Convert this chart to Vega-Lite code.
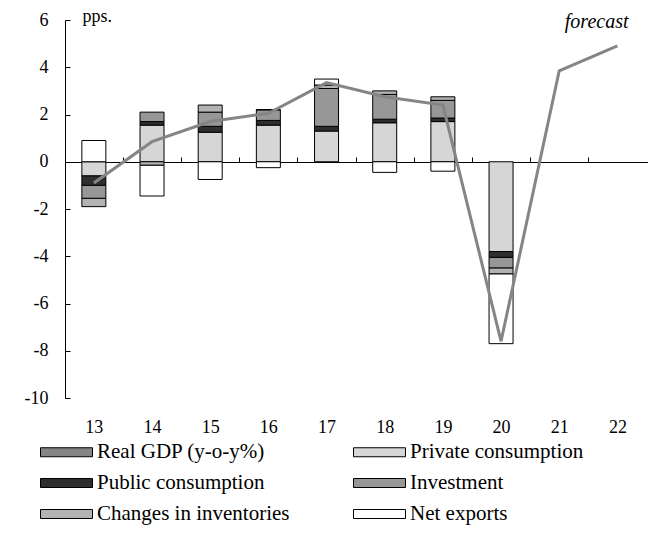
{
  "$schema": "https://vega.github.io/schema/vega-lite/v6.json",
  "width": 583,
  "height": 378,
  "autosize": {"type": "none"},
  "padding": {"left": 65, "top": 20, "right": 0, "bottom": 135},
  "background": "white",
  "config": {
    "view": {"stroke": null},
    "font": "Liberation Serif",
    "axis": {"labelFont": "Liberation Serif", "labelFontSize": 18, "labelColor": "black", "grid": false, "domainColor": "black", "tickColor": "black", "titleFont": "Liberation Serif", "titleFontWeight": "normal", "titleColor": "black"},
    "legend": {"labelFont": "Liberation Serif", "labelFontSize": 21, "labelColor": "black"}
  },
  "datasets": {
    "comps": [
      {"year": 13, "component": "Private consumption", "ord": 1, "value": -0.6},
      {"year": 13, "component": "Public consumption", "ord": 2, "value": -0.4},
      {"year": 13, "component": "Investment", "ord": 3, "value": -0.55},
      {"year": 13, "component": "Changes in inventories", "ord": 4, "value": -0.35},
      {"year": 13, "component": "Net exports", "ord": 5, "value": 0.9},
      {"year": 14, "component": "Private consumption", "ord": 1, "value": 1.55},
      {"year": 14, "component": "Public consumption", "ord": 2, "value": 0.15},
      {"year": 14, "component": "Investment", "ord": 3, "value": 0.4},
      {"year": 14, "component": "Changes in inventories", "ord": 4, "value": -0.15},
      {"year": 14, "component": "Net exports", "ord": 5, "value": -1.3},
      {"year": 15, "component": "Private consumption", "ord": 1, "value": 1.25},
      {"year": 15, "component": "Public consumption", "ord": 2, "value": 0.25},
      {"year": 15, "component": "Investment", "ord": 3, "value": 0.6},
      {"year": 15, "component": "Changes in inventories", "ord": 4, "value": 0.3},
      {"year": 15, "component": "Net exports", "ord": 5, "value": -0.75},
      {"year": 16, "component": "Private consumption", "ord": 1, "value": 1.55},
      {"year": 16, "component": "Public consumption", "ord": 2, "value": 0.2},
      {"year": 16, "component": "Investment", "ord": 3, "value": 0.45},
      {"year": 16, "component": "Changes in inventories", "ord": 4, "value": 0.0},
      {"year": 16, "component": "Net exports", "ord": 5, "value": -0.25},
      {"year": 17, "component": "Private consumption", "ord": 1, "value": 1.3},
      {"year": 17, "component": "Public consumption", "ord": 2, "value": 0.2},
      {"year": 17, "component": "Investment", "ord": 3, "value": 1.6},
      {"year": 17, "component": "Changes in inventories", "ord": 4, "value": 0.15},
      {"year": 17, "component": "Net exports", "ord": 5, "value": 0.25},
      {"year": 18, "component": "Private consumption", "ord": 1, "value": 1.65},
      {"year": 18, "component": "Public consumption", "ord": 2, "value": 0.15},
      {"year": 18, "component": "Investment", "ord": 3, "value": 1.05},
      {"year": 18, "component": "Changes in inventories", "ord": 4, "value": 0.15},
      {"year": 18, "component": "Net exports", "ord": 5, "value": -0.45},
      {"year": 19, "component": "Private consumption", "ord": 1, "value": 1.7},
      {"year": 19, "component": "Public consumption", "ord": 2, "value": 0.15},
      {"year": 19, "component": "Investment", "ord": 3, "value": 0.75},
      {"year": 19, "component": "Changes in inventories", "ord": 4, "value": 0.15},
      {"year": 19, "component": "Net exports", "ord": 5, "value": -0.4},
      {"year": 20, "component": "Private consumption", "ord": 1, "value": -3.8},
      {"year": 20, "component": "Public consumption", "ord": 2, "value": -0.25},
      {"year": 20, "component": "Investment", "ord": 3, "value": -0.45},
      {"year": 20, "component": "Changes in inventories", "ord": 4, "value": -0.25},
      {"year": 20, "component": "Net exports", "ord": 5, "value": -2.95}
    ],
    "gdp": [
      {"year": 13, "gdp": -0.9},
      {"year": 14, "gdp": 0.85},
      {"year": 15, "gdp": 1.7},
      {"year": 16, "gdp": 2.05},
      {"year": 17, "gdp": 3.35},
      {"year": 18, "gdp": 2.75},
      {"year": 19, "gdp": 2.4},
      {"year": 20, "gdp": -7.6},
      {"year": 21, "gdp": 3.85},
      {"year": 22, "gdp": 4.9}
    ]
  },
  "layer": [
    {
      "data": {"name": "comps"},
      "mark": {"type": "bar", "size": 24, "stroke": "black", "strokeWidth": 1},
      "encoding": {
        "x": {"field": "year", "type": "quantitative", "scale": {"domain": [12.59, 22.44], "nice": false, "zero": false},
          "axis": {"values": [13, 14, 15, 16, 17, 18, 19, 20, 21, 22], "format": "d", "domain": false, "ticks": false, "labelPadding": 20, "title": null}},
        "y": {"field": "value", "type": "quantitative", "stack": "zero", "scale": {"domain": [-10, 6], "nice": false},
          "axis": {"values": [-10, -8, -6, -4, -2, 0, 2, 4, 6], "labelExpr": "'' + datum.value", "ticks": false, "domain": false, "labelPadding": 17,
            "title": "pps.", "titleAngle": 0, "titleAlign": "left", "titleBaseline": "middle", "titleX": 17, "titleY": -4, "titleFontSize": 18}},
        "color": {"field": "component", "type": "nominal",
          "scale": {"domain": ["Real GDP (y-o-y%)", "Public consumption", "Changes in inventories", "Private consumption", "Investment", "Net exports"],
            "range": ["#858585", "#2e2e2e", "#b3b3b3", "#d6d6d6", "#979797", "#ffffff"]},
          "legend": {"orient": "none", "legendX": -9, "legendY": 421.5, "direction": "vertical", "columns": 2, "columnPadding": 61, "rowPadding": 9,
            "title": null, "padding": 0, "symbolType": "M-2.6,-0.45H2.6V0.45H-2.6Z", "symbolSize": 400, "labelOffset": 20,
            "symbolStrokeColor": "black", "symbolStrokeWidth": 1, "symbolOpacity": 1, "labelLimit": 400}},
        "order": {"field": "ord", "type": "quantitative"}
      }
    },
    {
      "data": {"name": "gdp"},
      "mark": {"type": "line", "strokeWidth": 3, "color": "#858585"},
      "encoding": {
        "x": {"field": "year", "type": "quantitative", "scale": {"domain": [12.59, 22.44], "nice": false, "zero": false},
          "axis": {"orient": "top", "offset": -142, "values": [13.5, 14.5, 15.5, 16.5, 17.5, 18.5, 19.5, 20.5, 21.5], "labels": false, "ticks": true, "tickSize": 5, "domain": true,
            "title": "forecast", "titleFontStyle": "italic", "titleFontSize": 20, "titleAlign": "right", "titleBaseline": "alphabetic", "titleAngle": 0, "titleX": 563, "titleY": -135}},
        "y": {"field": "gdp", "type": "quantitative", "scale": {"domain": [-10, 6], "nice": false},
          "axis": {"orient": "right", "offset": -583, "values": [-10, -8, -6, -4, -2, 0, 2, 4, 6], "labels": false, "ticks": true, "tickSize": 5, "domain": true, "title": null}}
      }
    },
    {
      "mark": {"type": "rule", "strokeDash": [6, 4], "strokeWidth": 2, "color": "black"},
      "encoding": {
        "x": {"datum": 20.5, "type": "quantitative", "axis": null},
        "y": {"datum": 5.2, "type": "quantitative", "axis": null},
        "y2": {"datum": -8}
      }
    }
  ],
  "resolve": {"axis": {"x": "independent", "y": "independent"}}
}
